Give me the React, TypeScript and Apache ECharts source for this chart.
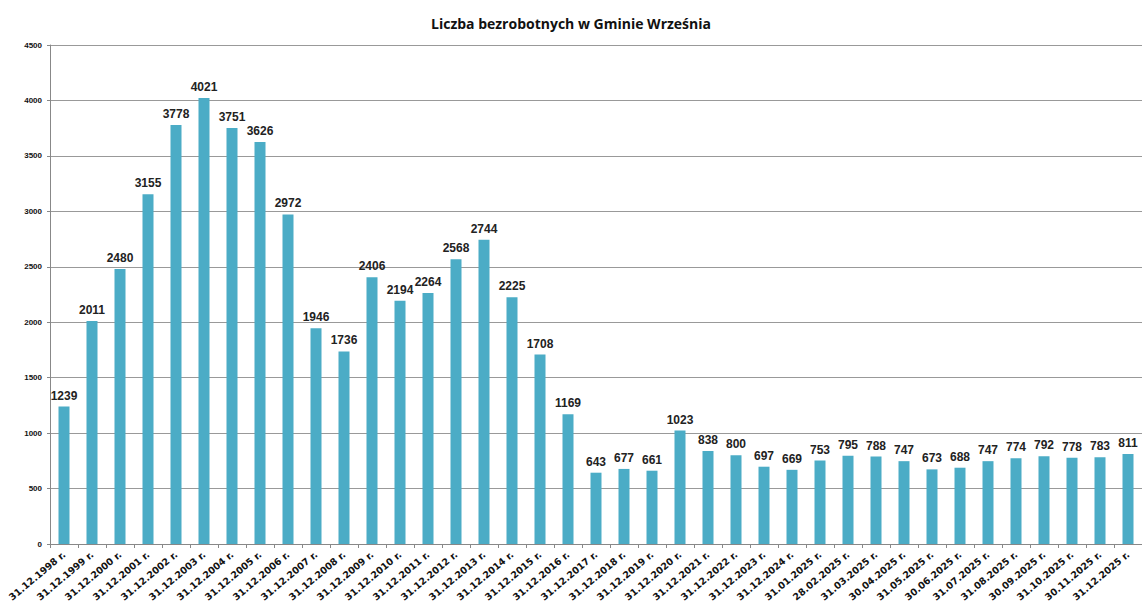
import React, { useEffect, useRef } from "react";
import * as echarts from "echarts";

const categories = [
  "31.12.1998 r.", "31.12.1999 r.", "31.12.2000 r.", "31.12.2001 r.", "31.12.2002 r.",
  "31.12.2003 r.", "31.12.2004 r.", "31.12.2005 r.", "31.12.2006 r.", "31.12.2007 r.",
  "31.12.2008 r.", "31.12.2009 r.", "31.12.2010 r.", "31.12.2011 r.", "31.12.2012 r.",
  "31.12.2013 r.", "31.12.2014 r.", "31.12.2015 r.", "31.12.2016 r.", "31.12.2017 r.",
  "31.12.2018 r.", "31.12.2019 r.", "31.12.2020 r.", "31.12.2021 r.", "31.12.2022 r.",
  "31.12.2023 r.", "31.12.2024 r.", "31.01.2025 r.", "28.02.2025 r.", "31.03.2025 r.",
  "30.04.2025 r.", "31.05.2025 r.", "30.06.2025 r.", "31.07.2025 r.", "31.08.2025 r.",
  "30.09.2025 r.", "31.10.2025 r.", "30.11.2025 r.", "31.12.2025 r.",
];

const values = [
  1239, 2011, 2480, 3155, 3778, 4021, 3751, 3626, 2972, 1946,
  1736, 2406, 2194, 2264, 2568, 2744, 2225, 1708, 1169, 643,
  677, 661, 1023, 838, 800, 697, 669, 753, 795, 788,
  747, 673, 688, 747, 774, 792, 778, 783, 811,
];

const titleText = "Liczba bezrobotnych w Gminie Września";
const yMin = 0;
const yMax = 4500;
const yStep = 500;

export default function App() {
  const ref = useRef<HTMLDivElement>(null);
  useEffect(() => {
    document.body.style.margin = "0";
    document.body.style.overflow = "hidden";
    const chart = echarts.init(ref.current!, null, { renderer: "svg" });
    chart.setOption({
      animation: false,
      backgroundColor: "#ffffff",
      title: {
        text: titleText,
        left: "center",
        top: 11,
        textStyle: {
          fontFamily: "Open Sans",
          fontWeight: "bold",
          fontSize: 14,
          color: "#111",
        },
      },
      grid: { left: 50, right: 0, top: 45, bottom: 66 },
      xAxis: {
        type: "category",
        data: categories,
        axisLine: { lineStyle: { color: "#888", width: 1 } },
        axisTick: { show: true, length: 4, lineStyle: { color: "#888" } },
        axisLabel: {
          interval: 0,
          rotate: 40,
          margin: 9,
          fontFamily: "DejaVu Sans",
          fontWeight: "bold",
          fontSize: 9.5,
          color: "#111",
        },
      },
      yAxis: {
        type: "value",
        min: yMin,
        max: yMax,
        interval: yStep,
        axisLine: { show: true, lineStyle: { color: "#888", width: 1 } },
        axisTick: { show: true, length: 3, lineStyle: { color: "#888" } },
        splitLine: { show: true, lineStyle: { color: "#999", width: 1 } },
        axisLabel: {
          margin: 8,
          fontFamily: "Liberation Sans",
          fontWeight: "bold",
          fontSize: 8,
          color: "#111",
          formatter: (v: number) => String(v),
        },
      },
      series: [
        {
          type: "bar",
          data: values,
          barWidth: 11,
          itemStyle: { color: "#4bacc6" },
          label: {
            show: true,
            position: "top",
            distance: 5,
            fontFamily: "Liberation Sans",
            fontWeight: "bold",
            fontSize: 12,
            color: "#222",
          },
        },
      ],
    });
    return () => chart.dispose();
  }, []);
  return <div ref={ref} style={{ width: 1142, height: 610 }} />;
}
